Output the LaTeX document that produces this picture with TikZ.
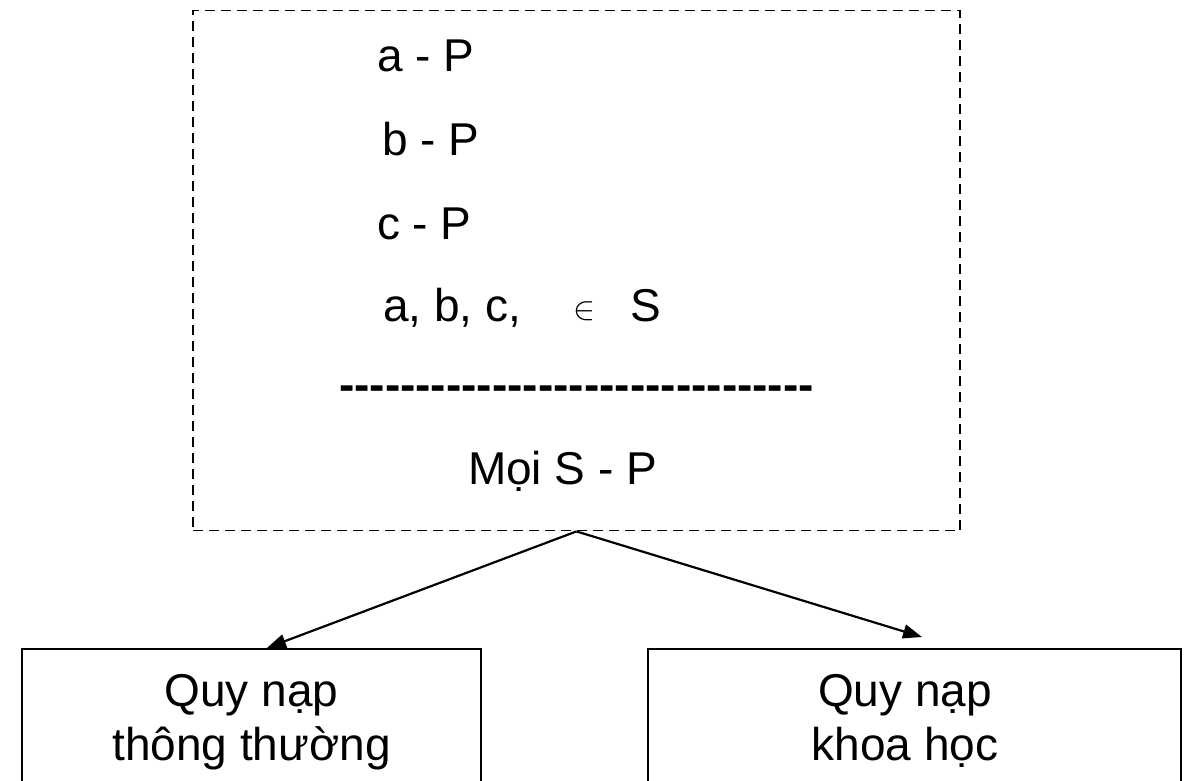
\documentclass[tikz,border=0pt]{standalone}
\usepackage{graphicx}
\usepackage{fontspec}
\setmainfont{Liberation Sans}
\newfontfamily\hyfont[Ligatures=TeXOff]{Liberation Sans}
\usetikzlibrary{arrows.meta}
\tikzset{
  txt/.style={inner sep=0pt, outer sep=0pt, font=\fontsize{46}{53}\selectfont},
  dashbox/.style={draw, line width=1.8pt, dash pattern=on 10pt off 6pt, inner sep=0pt},
  solidbox/.style={draw, line width=2.2pt, inner sep=0pt},
  arr/.style={line width=2.2pt, -{Triangle[length=19pt, width=14pt]}}
}
\begin{document}
\begin{tikzpicture}[x=1pt, y=-1pt]
\useasboundingbox (0,0) rectangle (1187,780);
\clip (0,0) rectangle (1187,780);
% dashed premise box
\node[dashbox, minimum width=767pt, minimum height=520pt] (top) at (576.5,270.5) {};
\node[txt, anchor=base west] (l1) at (377,71) {a - P};
\node[txt, anchor=base west] (l2) at (382,155) {b - P};
\node[txt, anchor=base west] (l3) at (377,239) {c - P};
\node[txt, anchor=base west] (l4) at (383,321) {a, b, c,};
\node[inner sep=0pt, anchor=base] (in) at (584,319) {\scalebox{3.3}{$\in$}};
\node[txt, anchor=base west] (l4s) at (630,321) {S};
\node[txt, anchor=base, font=\fontsize{46}{53}\selectfont\hyfont\bfseries] (bar) at (576.5,400) {-------------------------------};
\node[txt, anchor=base west] (concl) at (468,484) {Mọi S - P};
% bottom boxes
\node[solidbox, minimum width=459pt, minimum height=170pt] (left) at (251.5,734) {};
\node[solidbox, minimum width=533pt, minimum height=170pt] (right) at (914.5,734) {};
\node[txt, anchor=base] (lt1) at (251.5,706) {Quy nạp};
\node[txt, anchor=base] (lt2) at (251.5,760) {thông thường};
\node[txt, anchor=base] (rt1) at (905,706) {Quy nạp};
\node[txt, anchor=base] (rt2) at (905,760) {khoa học};
% connectors
\coordinate (rtip) at (922,637);
\draw[arr] (top.south) -- (left.north -| 267,0);
\draw[arr] (top.south) -- (rtip);
\end{tikzpicture}
\end{document}
